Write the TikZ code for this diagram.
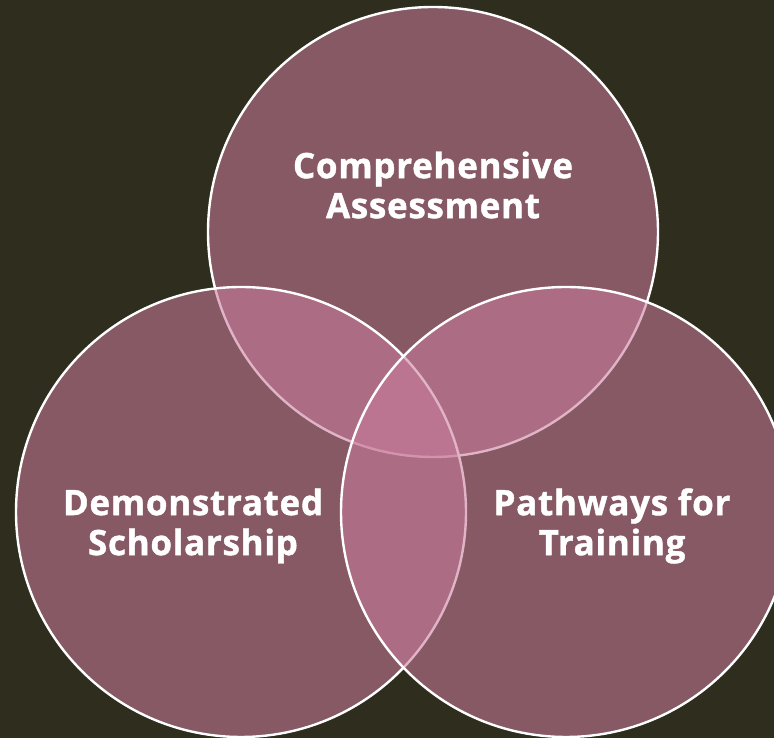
\documentclass[tikz,border=0pt]{standalone}
\usepackage{fontspec}
\setmainfont{Open Sans}[BoldFeatures={FakeBold=1.2,LetterSpace=2}]
\definecolor{bgolive}{HTML}{2F2D1D}
\definecolor{petal}{HTML}{C97C9B}
\begin{document}
\begin{tikzpicture}[x=1pt,y=1pt,
  ring/.style={circle, minimum size=450pt, inner sep=0pt,
    fill=petal, fill opacity=0.57, draw=white, draw opacity=1, line width=2.4pt},
  caption/.style={text=white, font=\bfseries\fontsize{35}{40}\selectfont,
    align=center, text opacity=1}]
  \fill[bgolive] (0,0) rectangle (774,738);
  \useasboundingbox (0,0) rectangle (774,738);
  % three overlapping circles, drawn top, left, right
  \node[ring] (top) at (433,506) {};
  \node[ring] (left) at (241,226) {};
  \node[ring] (right) at (566,226) {};
  % labels
  \node[caption] (ttop) at (433,553) {Comprehensive\\Assessment};
  \node[caption] (tleft) at (193,212) {Demonstrated\\Scholarship};
  \node[caption] (tright) at (612,212) {Pathways for\\Training};
\end{tikzpicture}
\end{document}
